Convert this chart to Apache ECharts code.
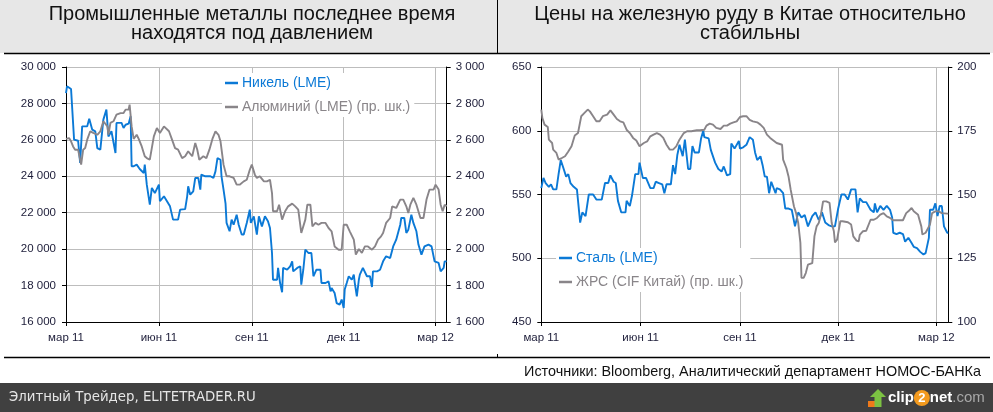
<!DOCTYPE html>
<html>
<head>
<meta charset="utf-8">
<script src="https://cdn.jsdelivr.net/npm/echarts@6/dist/echarts.min.js"></script>
<style>
html,body{margin:0;padding:0;background:#fff;}
#c{width:993px;height:412px;}
</style>
</head>
<body>
<div id="c"></div>
<script>
// ---- Data (x = days since 2011-03-01) ----
const xTickDays = [0, 92, 184, 275, 366];
const xTickLabels = ['мар 11', 'июн 11', 'сен 11', 'дек 11', 'мар 12'];
const nDays = 378;

const leftTitle = 'Промышленные металлы последнее время\nнаходятся под давлением';
const rightTitle = 'Цены на железную руду в Китае относительно\nстабильны';
const seriesNames = ['Никель (LME)', 'Алюминий (LME) (пр. шк.)', 'Сталь (LME)', 'ЖРС (CIF Китай) (пр. шк.)'];

const nickel = [[0,28570],[1,28940],[5,28790],[8,26010],[12,25950],[14,24730],[16,26740],[21,26740],[23,27160],[26,26560],[29,26470],[31,25550],[34,25460],[37,27110],[40,27660],[42,26190],[45,26470],[49,25280],[50,26930],[55,26930],[57,26650],[59,26830],[62,26890],[64,27290],[65,24550],[67,24550],[70,24640],[73,24400],[77,24180],[78,24640],[80,23540],[83,22440],[85,23360],[88,23080],[92,23540],[93,22630],[97,22900],[100,22630],[103,22350],[106,21620],[111,21620],[113,22170],[118,22200],[120,22900],[121,23450],[123,22990],[126,23170],[128,23910],[131,23910],[133,23270],[134,24090],[138,24000],[139,23910],[143,24000],[146,23910],[148,24270],[150,25000],[153,24910],[154,24000],[156,23270],[158,22500],[159,21440],[162,20980],[164,21620],[166,21340],[169,21890],[171,21340],[174,20800],[176,20800],[179,21440],[182,22170],[183,21440],[186,21800],[189,20800],[191,21800],[194,21250],[197,21800],[200,21530],[202,21160],[204,19790],[205,18320],[209,18320],[210,18970],[212,18140],[214,17630],[215,18970],[219,18870],[222,19060],[224,19330],[225,18780],[229,18970],[232,19060],[233,18050],[235,18870],[237,19970],[240,19790],[243,19790],[245,18510],[248,18870],[252,18870],[253,18140],[257,18140],[260,18230],[262,17680],[263,17870],[266,17590],[268,17040],[271,16950],[273,17230],[275,16770],[276,17780],[278,18140],[280,18510],[283,18320],[285,18600],[286,18140],[288,17410],[290,18320],[291,18600],[294,18970],[298,18510],[301,18510],[303,17920],[304,18780],[308,18780],[311,18870],[314,19330],[317,19610],[321,19510],[324,20150],[327,20520],[331,21340],[332,21710],[335,21710],[337,20890],[339,21070],[342,21890],[344,21440],[347,20980],[349,20250],[352,19700],[355,20150],[359,20250],[362,20150],[365,19330],[369,19240],[371,18780],[374,18970],[375,19330],[377,19330]];

const aluminium = [[0,2605],[3,2610],[5,2592],[7,2564],[9,2546],[12,2546],[15,2464],[17,2546],[19,2555],[21,2601],[24,2647],[27,2638],[31,2628],[34,2647],[37,2702],[41,2674],[42,2628],[44,2693],[47,2702],[50,2738],[54,2747],[57,2747],[59,2766],[62,2766],[63,2793],[65,2674],[67,2605],[70,2628],[72,2605],[75,2564],[78,2510],[80,2500],[83,2491],[87,2619],[90,2665],[93,2638],[97,2674],[98,2683],[102,2647],[105,2601],[108,2555],[111,2546],[115,2500],[118,2510],[121,2537],[125,2510],[128,2583],[130,2546],[132,2491],[136,2510],[139,2500],[142,2546],[145,2605],[148,2647],[151,2628],[153,2592],[156,2464],[159,2400],[162,2400],[166,2391],[169,2354],[172,2354],[176,2372],[179,2381],[182,2436],[184,2464],[187,2409],[189,2391],[192,2400],[196,2372],[199,2372],[202,2381],[204,2308],[205,2208],[209,2208],[211,2244],[214,2162],[217,2208],[220,2235],[224,2250],[227,2235],[230,2217],[233,2089],[237,2162],[239,2244],[242,2244],[244,2125],[247,2144],[250,2134],[253,2144],[257,2144],[260,2116],[263,2098],[266,2015],[270,1997],[273,1997],[275,2134],[278,2134],[281,2098],[285,2052],[287,1970],[290,2001],[293,1979],[296,2015],[299,2015],[303,1997],[306,2015],[309,2052],[312,2070],[314,2089],[317,2144],[321,2171],[323,2235],[327,2226],[331,2272],[334,2272],[337,2235],[339,2198],[341,2244],[344,2281],[347,2244],[351,2171],[354,2171],[357,2272],[360,2327],[364,2327],[366,2354],[369,2327],[371,2244],[373,2208],[375,2244],[377,2235]];

const steel = [[0,555],[2,563],[4,559],[7,556],[9,558],[11,554],[14,554],[16,566],[18,577],[20,572],[23,564],[25,566],[27,559],[30,556],[33,554],[36,528],[38,536],[41,533],[44,550],[48,550],[51,546],[56,546],[59,559],[62,559],[64,565],[67,560],[69,559],[71,545],[74,536],[78,536],[79,545],[82,541],[84,549],[87,566],[90,566],[91,575],[94,563],[97,563],[101,555],[104,555],[106,560],[109,559],[112,558],[114,551],[116,558],[120,558],[122,573],[124,566],[126,581],[128,589],[131,580],[133,593],[136,570],[138,570],[140,588],[142,583],[146,583],[148,594],[150,600],[151,595],[155,594],[157,585],[161,575],[164,570],[167,568],[169,572],[172,565],[175,566],[176,590],[179,586],[183,592],[184,586],[187,587],[190,589],[193,595],[196,593],[198,583],[200,577],[203,580],[205,573],[207,564],[209,564],[211,551],[213,560],[217,551],[218,555],[221,554],[224,551],[226,539],[229,539],[232,538],[235,525],[238,536],[241,532],[244,534],[247,525],[251,533],[254,536],[257,530],[260,536],[263,528],[266,526],[269,525],[272,525],[275,539],[278,550],[281,550],[284,546],[287,554],[291,554],[293,536],[295,547],[298,544],[301,544],[305,538],[308,536],[309,543],[311,536],[314,541],[317,538],[320,541],[323,538],[325,532],[326,520],[329,519],[332,520],[335,519],[337,513],[340,516],[343,512],[345,509],[348,508],[351,505],[354,503],[356,504],[359,516],[360,538],[363,538],[365,543],[367,533],[369,541],[371,541],[373,525],[376,520],[377,520]];

const ironOre = [[0,183.3],[1,180],[3,177.4],[6,176.5],[7,171.5],[10,170.2],[11,167.6],[14,166.3],[16,163.7],[19,164.3],[22,165],[25,166.9],[28,168.9],[31,173.1],[34,174.1],[37,180.7],[40,182],[43,183.3],[45,182.6],[48,180.7],[51,178.7],[54,178.7],[57,180.7],[61,181.3],[64,183],[67,181.3],[70,179.6],[73,178.7],[76,178.3],[79,175.4],[82,174.1],[85,172.2],[88,171.2],[91,168.9],[95,170.2],[98,170.8],[101,172.8],[104,173.5],[107,174.1],[110,173.5],[113,172.2],[116,169.5],[119,167.6],[122,167.6],[125,168.9],[128,171.5],[132,174.1],[135,174.8],[139,174.8],[144,175.2],[147,175.2],[151,175.4],[153,177],[156,177.8],[159,177.4],[162,176.1],[166,175.7],[169,177],[172,177],[175,177.8],[178,178.3],[181,178.7],[184,180.4],[187,180.7],[190,180.7],[193,179.3],[196,178.7],[200,178.3],[203,177.4],[206,176.1],[209,173.5],[212,172.2],[215,171.2],[218,170.2],[223,169.5],[224,163.7],[227,160.4],[229,157.1],[231,151.9],[234,145.4],[236,142.7],[238,138.8],[240,131],[241,117.3],[243,117.3],[245,119.2],[247,122.5],[251,123.1],[253,133.6],[255,137.5],[257,138.8],[259,142.1],[261,147.3],[264,147.3],[267,146.7],[269,138.8],[271,135.6],[272,131.2],[274,132.3],[277,139.5],[279,139.5],[284,139.1],[287,138.2],[289,133.6],[292,131.9],[294,131.6],[295,134.2],[298,135.6],[301,135.8],[305,140.1],[308,140.1],[311,140.8],[314,142.1],[317,142.7],[320,141.4],[323,140.8],[326,139.9],[331,139.9],[335,139.9],[338,142.7],[340,143.4],[343,144.7],[345,143.4],[349,142.1],[352,137.5],[353,134.3],[356,135],[360,138.2],[362,142.7],[365,143.4],[368,143.4],[371,142.7],[376,142.5],[377,142.5]];

// ---- Build ----
const categories = [];
for (let i = 0; i < nDays; i++) {
  const d = new Date(Date.UTC(2011, 2, 1) + i * 86400000);
  categories.push(d.toISOString().slice(0, 10));
}
const isTick = (idx) => xTickDays.indexOf(idx) >= 0;
const thousands = (v) => String(v).replace(/\B(?=(\d{3})+(?!\d))/g, ' ');

const BLUE = '#0b79d6';
const GRAY = '#898589';
const AX = '#1c1c38';
const FONT = '"Liberation Sans", Arial, sans-serif';

function xAxisCfg(g) {
  return {
    type: 'category', gridIndex: g, data: categories, boundaryGap: false,
    axisLine: { lineStyle: { color: '#000', width: 1 } },
    axisTick: { show: true, interval: (i) => isTick(i), length: 4, lineStyle: { color: '#000' } },
    axisLabel: { interval: (i) => isTick(i), formatter: (v, i) => { const k = xTickDays.indexOf(i); return k >= 0 ? xTickLabels[k] : ''; },
      color: AX, fontSize: 11.5, fontFamily: FONT, margin: 10 },
    splitLine: { show: true, interval: (i) => isTick(i), lineStyle: { color: '#bdbdbd', width: 1 } }
  };
}
function yAxisCfg(g, pos, min, max, step, split) {
  return {
    type: 'value', gridIndex: g, position: pos, min: min, max: max, interval: step,
    axisLine: { show: true, lineStyle: { color: '#000', width: 1 } },
    axisTick: { show: true, length: 4, lineStyle: { color: '#000' } },
    axisLabel: { formatter: thousands, color: AX, fontSize: 11.5, fontFamily: FONT, margin: pos === 'left' ? 10 : 9 },
    splitLine: { show: split, lineStyle: { color: '#bdbdbd', width: 1 } }
  };
}

const chart = echarts.init(document.getElementById('c'), null, { renderer: 'canvas' });
chart.setOption({
  animation: false,
  backgroundColor: '#fff',
  grid: [
    { left: 66, top: 67, width: 380.7, height: 255 },
    { left: 541.3, top: 67, width: 407, height: 255 }
  ],
  xAxis: [xAxisCfg(0), xAxisCfg(1)],
  yAxis: [
    yAxisCfg(0, 'left', 16000, 30000, 2000, true),
    yAxisCfg(0, 'right', 1600, 3000, 200, false),
    yAxisCfg(1, 'left', 450, 650, 50, true),
    yAxisCfg(1, 'right', 100, 200, 25, false)
  ],
  legend: [
    {
      data: [{ name: seriesNames[0], textStyle: { color: BLUE } }, { name: seriesNames[1], textStyle: { color: GRAY } }],
      orient: 'vertical', left: 222, top: 73, itemWidth: 13, itemHeight: 2.5, itemGap: 10, icon: 'rect',
      backgroundColor: '#fff', padding: [3, 4, 3, 3], selectedMode: false,
      textStyle: { fontSize: 14, fontFamily: FONT, padding: [0, 0, 0, -1] }
    },
    {
      data: [{ name: seriesNames[2], textStyle: { color: BLUE } }, { name: seriesNames[3], textStyle: { color: GRAY } }],
      orient: 'vertical', left: 556, top: 248, itemWidth: 13, itemHeight: 2.5, itemGap: 10, icon: 'rect',
      backgroundColor: '#fff', padding: [3, 7, 3, 3], selectedMode: false,
      textStyle: { fontSize: 14, fontFamily: FONT, padding: [0, 0, 0, -1] }
    }
  ],
  series: [
    { name: seriesNames[0], type: 'line', xAxisIndex: 0, yAxisIndex: 0, data: nickel, showSymbol: false, symbol: 'none', lineStyle: { color: BLUE, width: 1.9 }, itemStyle: { color: BLUE } },
    { name: seriesNames[1], type: 'line', xAxisIndex: 0, yAxisIndex: 1, data: aluminium, showSymbol: false, symbol: 'none', lineStyle: { color: GRAY, width: 1.9 }, itemStyle: { color: GRAY } },
    { name: seriesNames[2], type: 'line', xAxisIndex: 1, yAxisIndex: 2, data: steel, showSymbol: false, symbol: 'none', lineStyle: { color: BLUE, width: 1.9 }, itemStyle: { color: BLUE } },
    { name: seriesNames[3], type: 'line', xAxisIndex: 1, yAxisIndex: 3, data: ironOre, showSymbol: false, symbol: 'none', lineStyle: { color: GRAY, width: 1.9 }, itemStyle: { color: GRAY } }
  ],
  graphic: [
    { type: 'rect', shape: { x: 0, y: 0, width: 993, height: 53 }, style: { fill: '#e7e7e7' }, z: -10 },
    { type: 'line', shape: { x1: 4, y1: 53.5, x2: 990, y2: 53.5 }, style: { stroke: '#000', lineWidth: 1.5 } },
    { type: 'line', shape: { x1: 497.5, y1: 0, x2: 497.5, y2: 53 }, style: { stroke: '#000', lineWidth: 1 } },
    { type: 'text', x: 252, y: 24, style: { text: leftTitle, font: '20px ' + FONT, fill: '#111', align: 'center', verticalAlign: 'middle', lineHeight: 19 } },
    { type: 'text', x: 750, y: 24, style: { text: rightTitle, font: '20px ' + FONT, fill: '#111', align: 'center', verticalAlign: 'middle', lineHeight: 19 } },
    { type: 'line', shape: { x1: 4, y1: 357.5, x2: 990, y2: 357.5 }, style: { stroke: '#000', lineWidth: 1.5 } },
    { type: 'line', shape: { x1: 497.5, y1: 354, x2: 497.5, y2: 357 }, style: { stroke: '#000', lineWidth: 1 } },
    { type: 'text', x: 981, y: 372, style: { text: 'Источники: Bloomberg, Аналитический департамент НОМОС-БАНКа', font: '14.4px ' + FONT, fill: '#111', align: 'right', verticalAlign: 'middle' } },
    { type: 'rect', shape: { x: 0, y: 383, width: 993, height: 29 }, style: { fill: '#404040' } },
    { type: 'text', x: 9, y: 398, style: { text: 'Элитный Трейдер, ELITETRADER.RU', font: '13.3px "DejaVu Sans", Verdana, sans-serif', fill: '#e6e6e6', align: 'left', verticalAlign: 'middle' } },
    // clip2net logo
    { type: 'rect', shape: { x: 868, y: 401, width: 11, height: 6 }, style: { fill: '#f07a1a' } },
    { type: 'polygon', shape: { points: [[878, 389], [886, 397], [881.5, 397], [881.5, 407], [874.5, 407], [874.5, 397], [870, 397]] }, style: { fill: '#7cc242' } },
    { type: 'text', x: 888, y: 398, style: { text: '{a|clip}{b|2}{a|net}{c|.com}', verticalAlign: 'middle', align: 'left',
      rich: {
        a: { fill: '#fff', font: 'bold 15px ' + FONT },
        b: { fill: '#fff', font: 'bold 13px ' + FONT, backgroundColor: '#f39a1e', borderRadius: 8, width: 16, height: 16, align: 'center', lineHeight: 16 },
        c: { fill: '#a8a8a8', font: '15px ' + FONT }
      } } }
  ]
});
</script>
</body>
</html>
